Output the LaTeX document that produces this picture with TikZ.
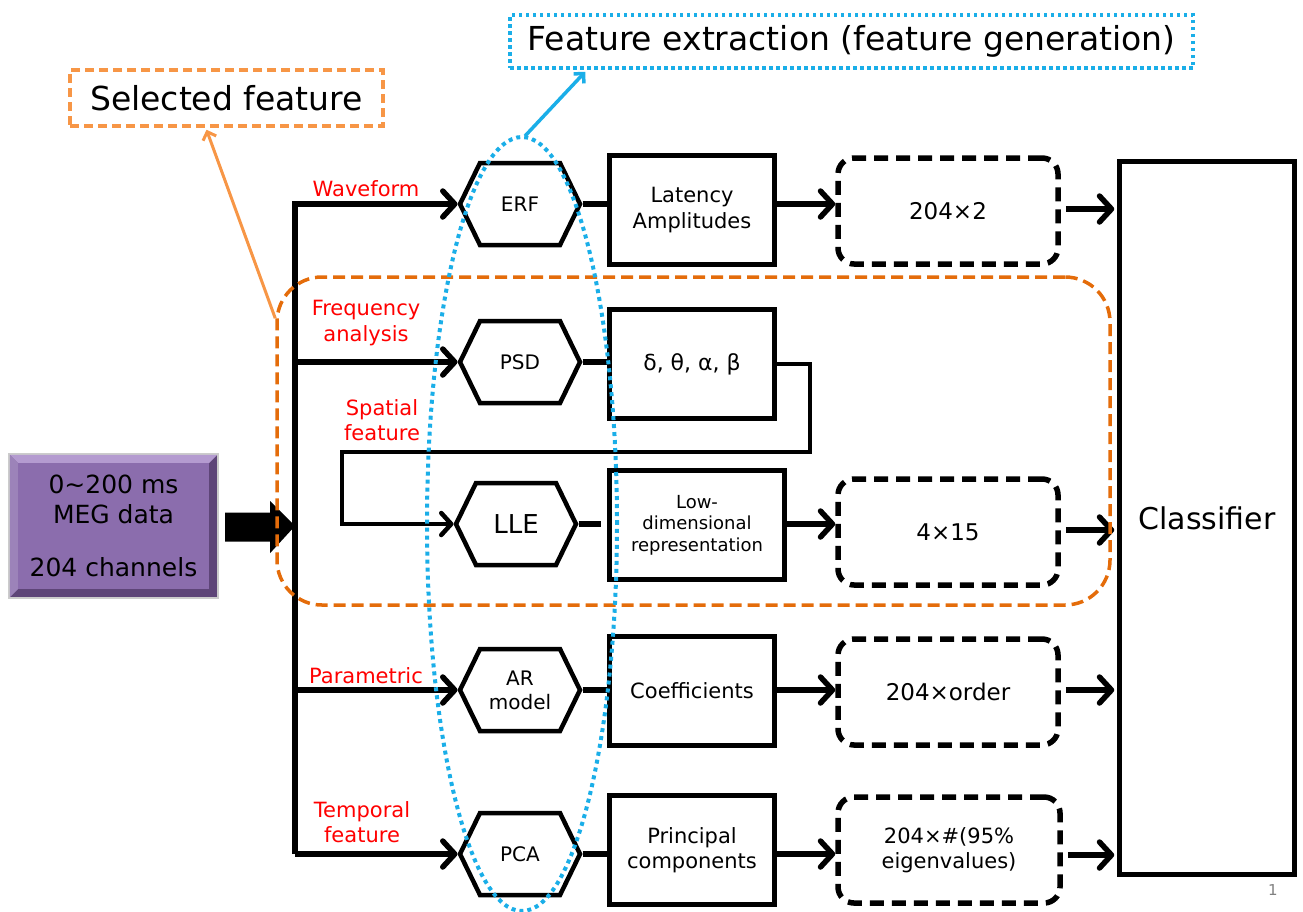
\documentclass[tikz,border=0pt]{standalone}
\usepackage{fontspec}
\setmainfont{DejaVu Sans}
\usetikzlibrary{arrows.meta,shapes.symbols,shapes.geometric,calc}
\definecolor{selorange}{HTML}{E46C0A}
\definecolor{lightorange}{HTML}{F79646}
\definecolor{skyblue}{HTML}{1AAEE8}
\definecolor{labelred}{HTML}{FF0000}
\definecolor{megpurple}{HTML}{8B6DAD}
\definecolor{megdark}{HTML}{5E4578}
\definecolor{meglight}{HTML}{B49BD0}
\newcommand{\fs}[1]{\fontsize{#1pt}{\the\dimexpr #1pt*6/5\relax}\selectfont}
\tikzset{
  hexa/.style={signal, signal to=west and east, signal pointer angle=128,
    draw, line width=4.5, minimum width=120, minimum height=82, inner sep=0,
    align=center, font=\fs{20}},
  procbox/.style={draw, line width=4.5, minimum width=165, minimum height=109,
    inner sep=2, align=center, font=\fs{21}},
  outbox/.style={draw, line width=5.5, dash pattern=on 14pt off 8pt,
    rounded corners=16, minimum width=220, minimum height=106,
    align=center, font=\fs{23}},
  flow/.style={line width=5.5, line join=miter,
    -{Straight Barb[length=12pt,width=26pt,line cap=round,line join=round]}},
  plain/.style={line width=5.5},
  branchlabel/.style={text=labelred, font=\fs{21}, align=center, inner sep=0},
  callout/.style={font=\fs{33}, inner sep=0, align=center}
}
\begin{document}
\begin{tikzpicture}[x=1pt,y=-1pt]
\useasboundingbox (0,0) rectangle (1303,911);

% input block with bevelled purple face
\node[minimum width=207, minimum height=142, inner sep=0] (meg) at (113.5,526) {};
\fill[gray!40] ($(meg.north west)+(-2,-2)$) rectangle ($(meg.south east)+(2,2)$);
\fill[megdark] (meg.north west) rectangle (meg.south east);
\fill[meglight] (meg.north west) -- (meg.north east) -- ($(meg.north east)+(-8,8)$) -- ($(meg.north west)+(8,8)$) -- cycle;
\fill[megpurple!85!white] (meg.north west) -- ($(meg.north west)+(8,8)$) -- ($(meg.south west)+(8,-8)$) -- (meg.south west) -- cycle;
\fill[megpurple] ($(meg.north west)+(8,8)$) rectangle ($(meg.south east)+(-8,-8)$);
\node[font=\fs{25}, align=center] (megtext) at (meg.center) {0\textasciitilde200 ms\\MEG data\\[0.9em]204 channels};

% thick block arrow into the bus
\coordinate (bus) at (295,526);
\fill ($(meg.east)+(8,-13.5)$) -- ($(meg.east)+(53,-13.5)$) -- ($(meg.east)+(53,-25)$) -- (bus) -- ($(meg.east)+(53,27)$) -- ($(meg.east)+(53,15.5)$) -- ($(meg.east)+(8,15.5)$) -- cycle;

% feature-extraction stages
\node[hexa] (erf) at (520,204) {ERF};
\node[hexa] (psd) at (520,362) {PSD};
\node[hexa, font=\fs{26}] (lle) at (516,524) {LLE};
\node[hexa] (ar) at (520,690) {AR\\model};
\node[hexa] (pca) at (520,854) {PCA};

\node[procbox] (lat) at (692,210) {Latency\\Amplitudes};
\node[procbox, font=\fs{22}] (band) at (692,364) {δ, θ, α, β};
\node[procbox, minimum width=175, font=\fs{18}] (low) at (697,525) {Low-\\dimensional\\representation};
\node[procbox] (coef) at (692,691) {Coefficients};
\node[procbox] (pc) at (692,850) {Principal\\components};

\node[outbox] (o1) at (948,211) {204×2};
\node[outbox] (o2) at (948,532) {4×15};
\node[outbox] (o3) at (948,692) {204×order};
\node[outbox, minimum width=222, font=\fs{21}] (o4) at (949,850) {204×\#(95\%\\eigenvalues)};

\node[draw, line width=4.5, minimum width=175, minimum height=713, font=\fs{30}] (cls) at (1207,518) {Classifier};

% input bus and branches
\draw[flow] (bus |- pca.west) |- (erf.west);
\draw[flow] (bus |- pca.west) -- (pca.west);
\draw[flow] (bus |- psd.west) -- (psd.west);
\draw[flow] (bus |- ar.west) -- (ar.west);

% branch labels
\node[branchlabel] (lwave) at (366,189) {Waveform};
\node[branchlabel] (lfreq) at (366,323) {Frequency\\analysis};
\node[branchlabel] (lspat) at (382,420) {Spatial\\feature};
\node[branchlabel] (lpar) at (366,676) {Parametric};
\node[branchlabel] (ltemp) at (362,822) {Temporal\\feature};

% stage to result connectors
\draw[plain] (erf.east) -- (erf.east -| lat.west);
\draw[plain] (psd.east) -- (psd.east -| band.west);
\draw[plain] (lle.east) -- ($(lle.east -| low.west)+(-6,0)$);
\draw[plain] (ar.east) -- (ar.east -| coef.west);
\draw[plain] (pca.east) -- (pca.east -| pc.west);

% spectral bands feed the spatial embedding
\draw[line width=4.5, line join=miter, -{Straight Barb[length=10pt,width=22pt,line cap=round,line join=round]}]
  (band.east) -- ++(33,0) |- (342,452) |- (lle.west);

\draw[flow] (erf.east -| lat.east) -- (erf.east -| o1.west);
\draw[flow] (lle.east -| low.east) -- (lle.east -| o2.west);
\draw[flow] (ar.east -| coef.east) -- (ar.east -| o3.west);
\draw[flow] (pca.east -| pc.east) -- (pca.east -| o4.west);

\draw[flow] ($(o1.east)+(5,-2)$) -- ($(o1.east -| cls.west)+(-3,-2)$);
\draw[flow] ($(o2.east)+(5,-2)$) -- ($(o2.east -| cls.west)+(-3,-2)$);
\draw[flow] ($(o3.east)+(5,-2)$) -- ($(o3.east -| cls.west)+(-3,-2)$);
\draw[flow] ($(o4.east)+(5,5)$) -- ($(o4.east -| cls.west)+(-3,5)$);

% selected-feature group
\node[draw=selorange, line width=3.5, dash pattern=on 12pt off 6pt, rounded corners=45,
  minimum width=833, minimum height=328] (grp) at (693.5,441) {};
\node[callout, draw=lightorange, line width=3.5, dash pattern=on 9pt off 5pt,
  minimum width=313, minimum height=56] (selbox) at (226.5,98) {Selected feature};
\coordinate (grpcorner) at ($(grp.north west)+(0,43)$);
\draw[lightorange, line width=3, -{Straight Barb[length=7pt,width=14pt]}] (grpcorner) -- ($(selbox.south)+(-20,2)$);

% feature-extraction group
\node[draw=skyblue, line width=4, dash pattern=on 4pt off 4pt, ellipse,
  minimum width=190, minimum height=774, inner sep=0] (fe) at (522,524) {};
\node[callout, draw=skyblue, line width=3.5, dash pattern=on 3.5pt off 3.5pt,
  minimum width=683, minimum height=53] (fxbox) at (851.5,41.5) {Feature extraction (feature generation)};
\draw[skyblue, line width=3.5, -{Straight Barb[length=7pt,width=14pt]}] ($(fe.north)+(3,1)$) -- ($(fxbox.south west)+(77,2)$);

% slide number
\node[text=gray, font=\fs{15}] (pgnum) at (1273,890) {1};
\end{tikzpicture}
\end{document}
